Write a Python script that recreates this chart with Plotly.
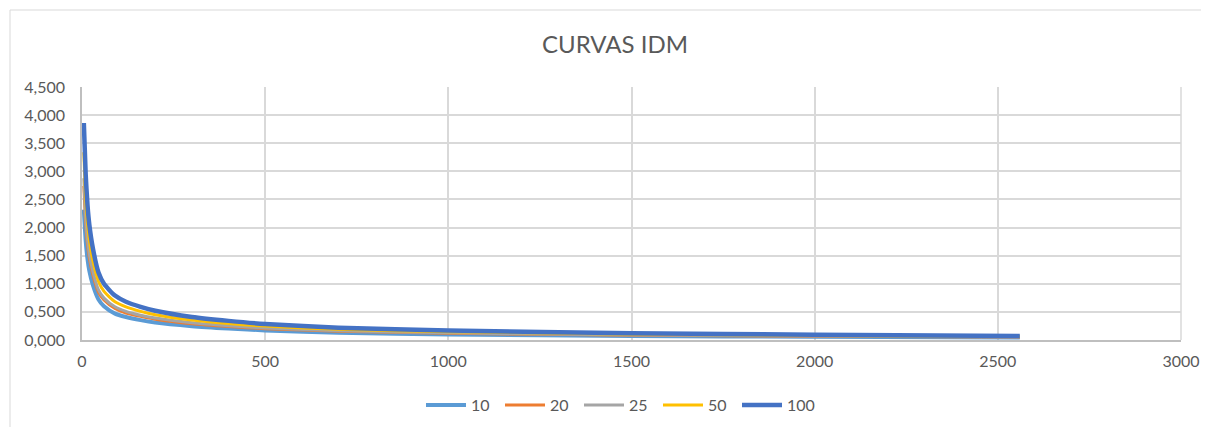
import plotly.graph_objects as go

durations = [5, 10, 15, 20, 30, 45, 60, 90, 120, 160, 200, 300, 400, 500, 700, 1000, 1500, 2000, 2560]

idm_10 = [2.32, 1.77, 1.44, 1.23, 0.97, 0.72, 0.60, 0.47, 0.41, 0.354, 0.31, 0.246, 0.204, 0.171, 0.13, 0.10, 0.072, 0.057, 0.043]
idm_20 = [2.74, 2.09, 1.70, 1.46, 1.15, 0.85, 0.71, 0.56, 0.48, 0.42, 0.37, 0.29, 0.241, 0.202, 0.156, 0.121, 0.085, 0.067, 0.051]
idm_25 = [2.88, 2.20, 1.79, 1.53, 1.21, 0.89, 0.745, 0.59, 0.51, 0.44, 0.39, 0.305, 0.253, 0.212, 0.164, 0.127, 0.089, 0.071, 0.054]
idm_50 = [3.34, 2.55, 2.08, 1.77, 1.40, 1.04, 0.865, 0.68, 0.59, 0.51, 0.45, 0.355, 0.294, 0.247, 0.19, 0.147, 0.104, 0.082, 0.062]
idm_100 = [3.86, 2.95, 2.40, 2.05, 1.62, 1.20, 1.00, 0.79, 0.68, 0.59, 0.52, 0.41, 0.34, 0.285, 0.22, 0.17, 0.12, 0.095, 0.072]

series_names = ["10", "20", "25", "50", "100"]
series_values = [idm_10, idm_20, idm_25, idm_50, idm_100]
colors = ["#5B9BD5", "#ED7D31", "#A5A5A5", "#FFC000", "#4472C4"]
widths = [4, 3, 3, 3, 4.5]

fig = go.Figure()
for name, vals, c, w in zip(series_names, series_values, colors, widths):
    fig.add_trace(go.Scatter(x=durations, y=vals, mode="lines", name=name,
                             line=dict(color=c, width=w, shape="spline", smoothing=0.6)))

# page body has an 8px margin; figure is placed at (8, 8)
W, H = 1201, 419
L, T = 74, 79
PW, PH = 1099, 253
R = W - L - PW
B = H - T - PH

def px(xpage):
    return (xpage - 8 - L) / PW

def py(ypage):
    return (8 + T + PH - ypage) / PH

font_family = "Lato, 'Open Sans', sans-serif"
fig.update_layout(
    width=W, height=H,
    margin=dict(l=L, r=R, t=T, b=B, autoexpand=False),
    paper_bgcolor="white", plot_bgcolor="white",
    separators=",.",
    font=dict(family=font_family, size=16, color="#595959"),
    title=dict(text="CURVAS IDM", x=(615 - 8) / W, xanchor="center", y=1 - (45 - 8) / H, yanchor="middle",
               font=dict(size=24, color="#595959", family=font_family)),
    showlegend=True,
    legend=dict(orientation="h", x=px(421), xanchor="left", y=py(405), yanchor="middle",
                font=dict(size=16, color="#595959"), itemwidth=40, traceorder="normal",
                entrywidth=24, entrywidthmode="pixels"),
    xaxis=dict(range=[0, 3000], tickvals=[0, 500, 1000, 1500, 2000, 2500, 3000],
               ticktext=["0", "500", "1000", "1500", "2000", "2500", "3000"],
               showgrid=True, gridcolor="#D9D9D9", gridwidth=1.5,
               showline=True, linecolor="#BFBFBF", linewidth=1.5, mirror=False,
               zeroline=False, ticks="", ticklen=0, ticklabelstandoff=6,
               tickfont=dict(size=16, color="#595959")),
    yaxis=dict(range=[0, 4.5], dtick=0.5, tickformat=".3f",
               showgrid=True, gridcolor="#D9D9D9", gridwidth=1.5,
               showline=True, linecolor="#BFBFBF", linewidth=1.5,
               zeroline=False, ticks="", ticklen=0, ticklabelstandoff=12,
               tickfont=dict(size=16, color="#595959")),
    shapes=[
        dict(type="line", xref="paper", yref="paper", x0=1.0, x1=1.0, y0=0, y1=1,
             line=dict(color="#D9D9D9", width=1.5)),
        dict(type="line", xref="paper", yref="paper",
             x0=px(10), x1=px(1215), y0=py(10), y1=py(10),
             line=dict(color="#D9D9D9", width=1)),
        dict(type="line", xref="paper", yref="paper",
             x0=px(10), x1=px(10), y0=py(10), y1=py(430),
             line=dict(color="#D9D9D9", width=1)),
    ],
)

fig.write_html("out.html")
